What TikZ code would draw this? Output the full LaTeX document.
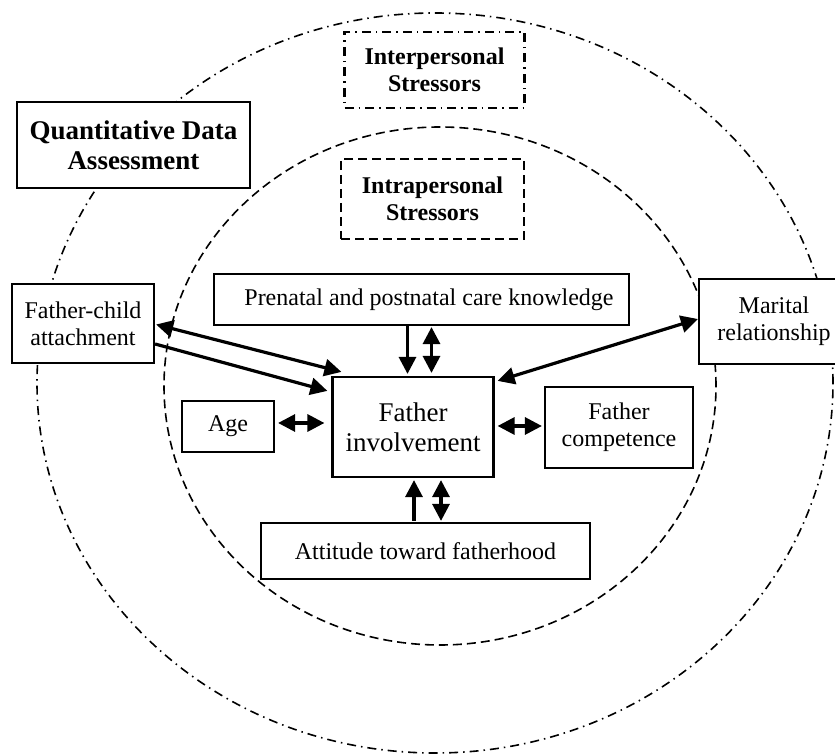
\documentclass[tikz,border=0pt]{standalone}
\usepackage{fontspec}
\setmainfont{Liberation Serif}
\usetikzlibrary{arrows.meta,calc}

\begin{document}
\begin{tikzpicture}[x=1pt,y=1pt,
  box/.style={draw, line width=2.2pt, fill=white, inner sep=0pt, align=center,
    font=\fontsize{24}{27}\selectfont},
  boldbox/.style={box, font=\fontsize{24}{27}\selectfont\bfseries},
  dashdotline/.style={dash pattern=on 9pt off 5pt on 1.5pt off 5pt},
  dashline/.style={dash pattern=on 9pt off 5pt},
  onearrow/.style={line width=3.2pt, arrows={-Triangle[length=17pt,width=17pt]}},
  twoarrow/.style={line width=3.2pt, arrows={Triangle[length=17pt,width=17pt]-Triangle[length=17pt,width=17pt]}}
]
\useasboundingbox (0,0) rectangle (835,755);
\clip (0,0) rectangle (835,755);

% two nested stressor rings
\draw[line width=1.6pt, dashdotline] (435,372) ellipse [x radius=398, y radius=370];
\draw[line width=1.6pt, dashline] (440,369) ellipse [x radius=276, y radius=259];

% ring labels
\node[boldbox, dashdotline, minimum width=180pt, minimum height=76pt] (inter) at (434.5,685) {Interpersonal\\Stressors};
\node[boldbox, dashline, minimum width=183pt, minimum height=80pt] (intra) at (432.5,556) {Intrapersonal\\Stressors};
\node[box, font=\fontsize{27}{30}\selectfont\bfseries, minimum width=233pt, minimum height=86pt] (quant) at (133.5,610) {Quantitative Data\\Assessment};

% factors
\node[box, minimum width=415pt, minimum height=51pt] (pren) at (421.5,455.5) {\hspace*{15pt}Prenatal and postnatal care knowledge};
\node[box, minimum width=142pt, minimum height=79pt] (fc) at (83,431.5) {Father-child\\attachment};
\node[box, minimum width=150pt, minimum height=85pt] (mar) at (774,433.5) {Marital\\relationship};
\node[box, font=\fontsize{27}{30}\selectfont, minimum width=161pt, minimum height=100pt] (fi) at (413,328) {Father\\involvement};
\node[box, minimum width=92pt, minimum height=51pt] (age) at (228,328.5) {Age};
\node[box, minimum width=148pt, minimum height=81pt] (comp) at (619,327.5) {Father\\competence};
\node[box, minimum width=329pt, minimum height=56pt] (att) at (425.5,204) {Attitude toward fatherhood};

% relations
\draw[twoarrow] ([xshift=1pt,yshift=-1pt]fc.east) -- ([xshift=10pt,yshift=4pt]fi.north west);
\draw[onearrow] ([yshift=-20.5pt]fc.east) -- ([xshift=-4pt,yshift=-15pt]fi.north west);
\draw[twoarrow] ([yshift=2.5pt]mar.west) -- ([xshift=3pt,yshift=-5pt]fi.north east);
\draw[onearrow] ([xshift=-14pt]pren.south) -- ([xshift=-5.5pt,yshift=2pt]fi.north);
\draw[twoarrow] ([xshift=10pt,yshift=-1pt]pren.south) -- ([xshift=18.5pt,yshift=3pt]fi.north);
\draw[twoarrow] ([xshift=3pt,yshift=3.5pt]age.east) -- ([xshift=-7pt,yshift=4pt]fi.west);
\draw[twoarrow] ([xshift=3pt,yshift=1pt]fi.east) -- ([xshift=-2pt,yshift=1.5pt]comp.west);
\draw[onearrow] ([xshift=-11.5pt,yshift=1pt]att.north) -- ([xshift=1pt,yshift=-2pt]fi.south);
\draw[twoarrow] ([xshift=15.5pt,yshift=1pt]att.north) -- ([xshift=28pt,yshift=-2pt]fi.south);
\end{tikzpicture}
\end{document}
